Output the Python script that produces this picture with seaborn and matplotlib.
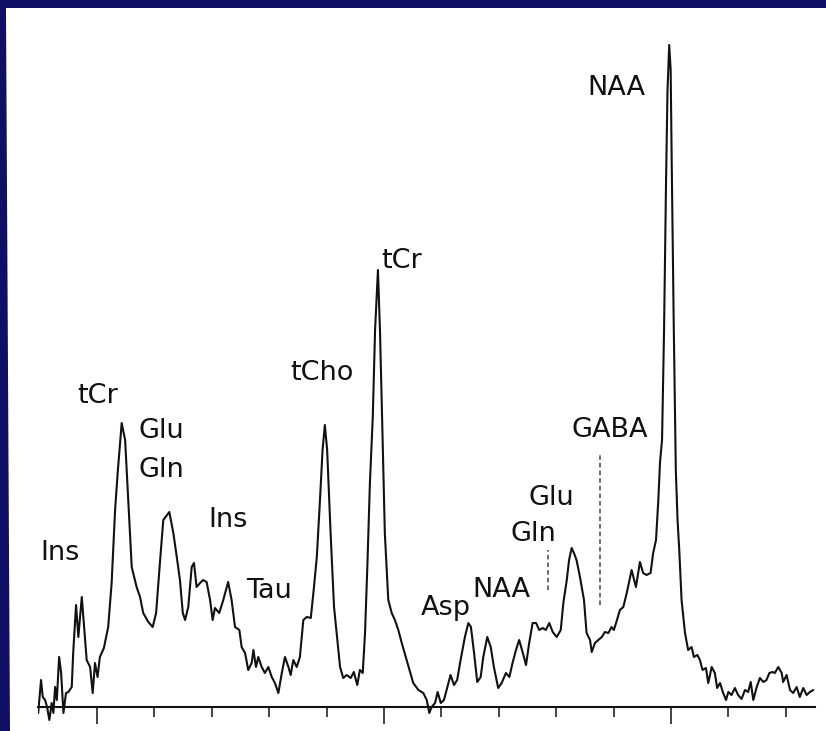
import numpy as np
import pandas as pd
import matplotlib
matplotlib.use("Agg")
import matplotlib.pyplot as plt
from matplotlib.patches import Polygon
from matplotlib.ticker import FixedLocator, NullFormatter
import seaborn as sns

# ---- data: chemical shift (ppm) and signal intensity (a.u.) ----
ppm = [4.205, 4.195, 4.189, 4.181, 4.174, 4.166, 4.158, 4.152, 4.146, 4.140,
       4.132, 4.125, 4.117, 4.108, 4.100, 4.088, 4.083, 4.073, 4.065, 4.053,
       4.045, 4.036, 4.024, 4.015, 4.007, 3.998, 3.990, 3.976, 3.961, 3.949,
       3.937, 3.928, 3.914, 3.902, 3.891, 3.879, 3.862, 3.850, 3.839, 3.821,
       3.806, 3.794, 3.780, 3.769, 3.748, 3.734, 3.722, 3.711, 3.701, 3.693,
       3.682, 3.670, 3.662, 3.653, 3.641, 3.630, 3.618, 3.606, 3.597, 3.589,
       3.574, 3.560, 3.543, 3.531, 3.519, 3.504, 3.496, 3.484, 3.473, 3.461,
       3.455, 3.446, 3.438, 3.426, 3.415, 3.403, 3.391, 3.380, 3.368, 3.356,
       3.345, 3.333, 3.325, 3.316, 3.304, 3.293, 3.281, 3.269, 3.255, 3.246,
       3.234, 3.223, 3.214, 3.206, 3.198, 3.186, 3.174, 3.165, 3.153, 3.142,
       3.130, 3.116, 3.105, 3.093, 3.084, 3.074, 3.066, 3.058, 3.049, 3.039,
       3.031, 3.021, 3.014, 3.008, 2.997, 2.985, 2.973, 2.962, 2.950, 2.938,
       2.921, 2.898, 2.880, 2.863, 2.851, 2.842, 2.834, 2.822, 2.813, 2.802,
       2.791, 2.779, 2.768, 2.756, 2.745, 2.733, 2.718, 2.706, 2.697, 2.686,
       2.675, 2.663, 2.654, 2.640, 2.628, 2.617, 2.602, 2.590, 2.575, 2.563,
       2.552, 2.540, 2.529, 2.517, 2.505, 2.494, 2.482, 2.470, 2.459, 2.447,
       2.436, 2.424, 2.412, 2.398, 2.384, 2.375, 2.363, 2.355, 2.346, 2.338,
       2.329, 2.317, 2.303, 2.294, 2.282, 2.276, 2.265, 2.253, 2.241, 2.230,
       2.218, 2.207, 2.199, 2.188, 2.178, 2.166, 2.154, 2.137, 2.122, 2.108,
       2.097, 2.085, 2.071, 2.062, 2.052, 2.044, 2.038, 2.031, 2.024, 2.017,
       2.012, 2.006, 2.001, 1.997, 1.990, 1.983, 1.977, 1.971, 1.963, 1.951,
       1.940, 1.928, 1.920, 1.908, 1.899, 1.890, 1.878, 1.870, 1.858, 1.847,
       1.839, 1.829, 1.818, 1.808, 1.800, 1.789, 1.777, 1.766, 1.754, 1.742,
       1.731, 1.722, 1.713, 1.701, 1.690, 1.678, 1.667, 1.657, 1.646, 1.638,
       1.626, 1.614, 1.609, 1.597, 1.585, 1.574, 1.562, 1.551, 1.539, 1.527,
       1.516, 1.504]

intensity = [-6, 27, 10, 7, 0, -13, 4, -6, 20, 7,
             50, 34, -6, 14, 15, 20, 54, 102, 70, 110,
             80, 47, 40, 14, 44, 30, 50, 59, 80, 124,
             197, 234, 284, 267, 207, 140, 120, 110, 94, 85,
             80, 94, 147, 187, 195, 174, 150, 127, 94, 87,
             100, 140, 144, 120, 124, 127, 125, 107, 87, 99,
             94, 107, 125, 107, 80, 77, 60, 54, 37, 44,
             57, 40, 50, 40, 34, 40, 30, 24, 14, 34,
             50, 40, 32, 47, 40, 50, 87, 90, 89, 114,
             150, 207, 257, 282, 257, 174, 100, 74, 40, 29,
             32, 29, 35, 22, 37, 34, 74, 140, 224, 290,
             377, 437, 377, 307, 174, 107, 94, 87, 77, 64,
             47, 24, 17, 14, 7, -6, 0, 4, 15, 4,
             7, 20, 32, 22, 27, 47, 70, 84, 80, 54,
             25, 30, 50, 70, 60, 40, 19, 24, 34, 30,
             44, 57, 67, 55, 42, 64, 84, 84, 77, 79,
             77, 84, 75, 70, 77, 104, 127, 147, 159, 154,
             147, 130, 107, 74, 67, 55, 64, 67, 70, 75,
             74, 80, 77, 87, 97, 100, 114, 137, 120, 145,
             134, 132, 134, 154, 167, 207, 245, 267, 377, 527,
             617, 662, 637, 537, 377, 237, 187, 157, 107, 74,
             57, 60, 50, 52, 47, 37, 39, 24, 40, 34,
             19, 24, 14, 7, 15, 12, 19, 12, 8, 17,
             15, 25, 7, 20, 29, 25, 27, 34, 35, 34,
             40, 34, 25, 32, 17, 14, 20, 10, 19, 12,
             15, 17]

# peak labels
label_text = ["NAA", "tCr", "tCho", "tCr", "Glu", "Gln", "Ins", "Ins", "Tau",
              "Asp", "NAA", "Glu", "Gln", "GABA"]
label_ppm = [2.190, 2.937, 3.216, 3.997, 3.777, 3.777, 4.129, 3.545, 3.401,
             2.784, 2.592, 2.418, 2.481, 2.213]
label_base = [612, 439, 327, 304, 269, 230, 147, 180, 109,
              92, 110, 202, 166, 270]

# dashed markers (ppm, bottom, top)
marker_ppm = [2.430, 2.246]
marker_lo = [117, 102]
marker_hi = [157, 252]

major_ticks = [4.0, 3.0, 2.0]
minor_ticks = [3.8, 3.6, 3.4, 3.2, 2.8, 2.6, 2.4, 2.2, 1.8, 1.6]

# ---- figure ----
sns.set_style("white")
plt.rcParams["font.family"] = ["DejaVu Sans"]

W, H = 826, 731
fig = plt.figure(figsize=(W / 100, H / 100), dpi=100)
navy = "#0f0f66"
fig.patch.set_facecolor(navy)
panel = Polygon([(6 / W, 1 - 7.5 / H), (1.0, 1 - 7.5 / H), (1.0, 0.0), (10 / W, 0.0)],
                closed=True, transform=fig.transFigure, facecolor="white",
                edgecolor="none", zorder=-10)
fig.patches.append(panel)

ax = fig.add_axes([38 / W, 3 / H, (815 - 38) / W, (728 - 8) / H])
ax.set_zorder(5)
ax.set_facecolor("none")
ax.patch.set_alpha(0)

df = pd.DataFrame({"ppm": ppm, "intensity": intensity})
sns.lineplot(data=df, x="ppm", y="intensity", ax=ax, sort=False, estimator=None,
             color="#111111", linewidth=1.5)

for x, lo, hi in zip(marker_ppm, marker_lo, marker_hi):
    ax.plot([x, x], [lo, hi], color="#444444", linewidth=1.1,
            linestyle=(0, (3, 2)))

for t, x, y in zip(label_text, label_ppm, label_base):
    ax.text(x, y, t, ha="center", va="baseline", fontsize=19.5, color="#111111")

ax.set_xlim(4.2056, 1.498)
ax.set_ylim(-21, 699)

for s in ["left", "right", "top"]:
    ax.spines[s].set_visible(False)
ax.spines["bottom"].set_position(("data", 0))
ax.spines["bottom"].set_linewidth(1.5)
ax.spines["bottom"].set_color("#111111")

ax.xaxis.set_major_locator(FixedLocator(major_ticks))
ax.xaxis.set_minor_locator(FixedLocator(minor_ticks))
ax.xaxis.set_major_formatter(NullFormatter())
ax.tick_params(axis="x", which="major", direction="out", length=12, width=1.1,
               color="#111111", bottom=True)
ax.tick_params(axis="x", which="minor", direction="out", length=7, width=1.1,
               color="#111111", bottom=True)
ax.set_yticks([])
ax.set_xlabel("")
ax.set_ylabel("")

fig.savefig("out.png", dpi=100, facecolor=fig.get_facecolor())
